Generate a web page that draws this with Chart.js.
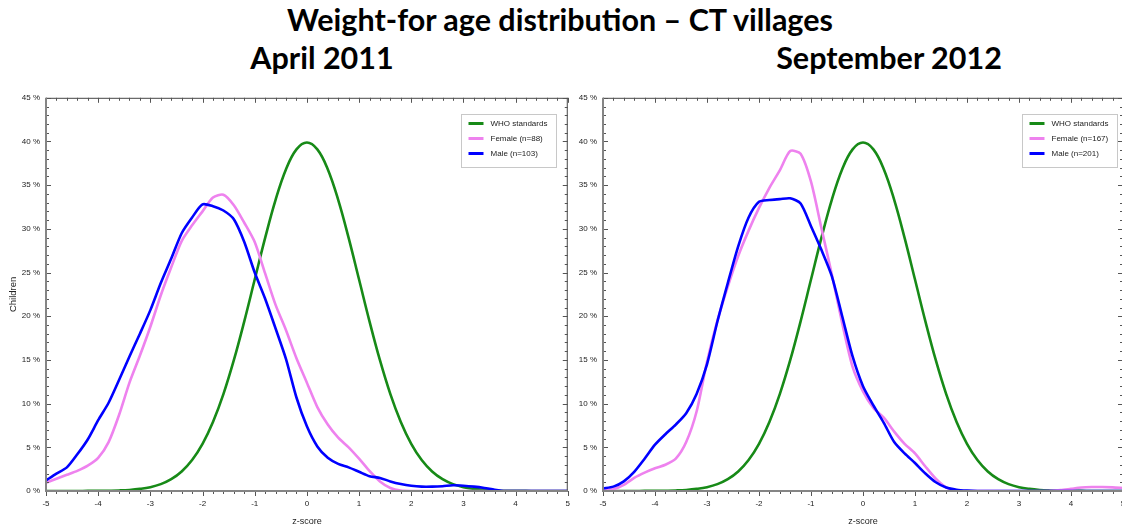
<!DOCTYPE html>
<html>
<head>
<meta charset="utf-8">
<script src="https://cdn.jsdelivr.net/npm/chart.js@4.4.0/dist/chart.umd.min.js"></script>
<style>
  body { margin: 0; width: 1122px; height: 531px; overflow: hidden; background: #fff; position: relative; }
  .title { position: absolute; font-family: Lato, "Open Sans", sans-serif; font-weight: bold; font-size: 30.5px; line-height: 30.5px; color: #000; white-space: nowrap; transform: translateX(-50%); }
  .panel { position: absolute; top: 87px; }
  canvas { display: block; }
</style>
</head>
<body>
<div class="title" style="left:560px; top:4px">Weight-for age distribution – CT villages</div>
<div class="title" style="left:322px; top:42px">April 2011</div>
<div class="title" style="left:889px; top:42px">September 2012</div>
<div class="panel" style="left:0"><canvas id="left" width="578" height="444"></canvas></div>
<div class="panel" style="left:575px"><canvas id="right" width="560" height="444"></canvas></div>
<script>
// z-score grid shared by all curves
const zScores = [-5.0,-4.8,-4.6,-4.4,-4.2,-4.0,-3.8,-3.6,-3.4,-3.2,-3.0,-2.8,-2.6,-2.4,-2.2,-2.0,-1.8,-1.6,-1.4,-1.2,-1.0,-0.8,-0.6,-0.4,-0.2,
  0.0,0.2,0.4,0.6,0.8,1.0,1.2,1.4,1.6,1.8,2.0,2.2,2.4,2.6,2.8,3.0,3.2,3.4,3.6,3.8,4.0,4.2,4.4,4.6,4.8,5.0];

// % of children at each z-score
const whoStandard = [0,0,0,0,0.01,0.01,0.03,0.06,0.12,0.24,0.44,0.79,1.36,2.24,3.55,5.4,7.9,11.09,14.97,19.42,24.2,28.97,33.32,36.83,39.1,
  39.89,39.1,36.83,33.32,28.97,24.2,19.42,14.97,11.09,7.9,5.4,3.55,2.24,1.36,0.79,0.44,0.24,0.12,0.06,0.03,0.01,0.01,0,0,0,0];

const female2011 = [0.95,1.4,1.85,2.3,2.9,3.8,5.6,8.7,12.4,15.5,18.8,22.4,25.6,28.6,30.4,32.0,33.6,33.9,32.7,30.7,28.5,24.9,21.3,18.4,15.2,
  12.4,9.6,7.6,6.1,5.0,3.7,2.3,1.1,0.35,0.05,0,0,0,0,0,0,0,0,0,0,0,0,0,0,0,0];
const male2011 = [1.2,2.0,2.7,4.2,5.9,8.1,10.1,12.7,15.4,18.0,20.7,23.8,26.6,29.5,31.3,32.8,32.6,32.1,31.1,28.5,25.0,22.0,18.6,15.1,10.7,
  7.4,5.1,3.8,3.1,2.7,2.2,1.7,1.5,1.1,0.8,0.6,0.5,0.5,0.55,0.65,0.6,0.5,0.35,0.15,0,0,0,0,0,0,0];

const female2012 = [0.1,0.2,0.7,1.5,2.1,2.6,3.0,3.7,5.6,9.1,14.8,19.5,23.4,26.9,29.8,32.4,34.7,36.7,38.9,38.6,35.4,30.1,24.8,19.2,14.2,
  11.4,9.5,8.4,6.8,5.4,4.3,2.8,1.4,0.4,0.05,0,0,0,0,0,0,0,0,0.02,0.1,0.25,0.4,0.45,0.45,0.42,0.35];
const male2012 = [0.3,0.5,1.1,2.2,3.7,5.3,6.5,7.6,8.9,11.1,14.5,19.4,23.8,28.0,31.3,33.1,33.3,33.4,33.5,32.9,30.3,27.6,24.6,20.0,15.4,
  12.0,9.8,7.8,5.6,4.3,3.2,2.0,1.0,0.4,0.15,0.05,0,0,0,0,0,0,0,0,0,0,0,0,0,0,0];

const xTickLabels = ['-5','-4','-3','-2','-1','0','1','2','3','4','5'];

const GREEN = '#178a17';
const PINK = '#ee82ee';
const BLUE = '#0000ff';
const FONT = '"Liberation Sans", Arial, sans-serif';

const points = vals => zScores.map((z, i) => ({ x: z, y: vals[i] }));

// box around the plot, minor/major ticks on every side, and the legend
const framePlugin = {
  id: 'frame',
  afterDraw(chart, args, opts) {
    const { ctx, chartArea: a, scales: { x, y } } = chart;
    ctx.save();

    // top and right edges
    ctx.strokeStyle = '#444';
    ctx.lineWidth = 1;
    ctx.beginPath();
    ctx.moveTo(a.left, a.top + 0.5); ctx.lineTo(a.right, a.top + 0.5);
    ctx.moveTo(a.right - 0.5, a.top); ctx.lineTo(a.right - 0.5, a.bottom);
    ctx.stroke();

    // x ticks every 0.2, majors every 1
    ctx.strokeStyle = '#555';
    ctx.beginPath();
    for (let i = 0; i <= 50; i++) {
      const px = Math.round(x.getPixelForValue(-5 + i * 0.2)) + 0.5;
      const len = i % 5 === 0 ? 5 : 3;
      ctx.moveTo(px, a.bottom); ctx.lineTo(px, a.bottom + len);
      ctx.moveTo(px, a.top); ctx.lineTo(px, a.top + len);
    }
    // y ticks every 1 %, majors every 5 %
    for (let i = 0; i <= 45; i++) {
      const py = Math.round(y.getPixelForValue(i)) + 0.5;
      const len = i % 5 === 0 ? 5 : 3;
      ctx.moveTo(a.left, py); ctx.lineTo(a.left + len, py);
      ctx.moveTo(a.right, py); ctx.lineTo(a.right - len, py);
    }
    ctx.stroke();

    // left and bottom axis lines
    ctx.strokeStyle = '#858585';
    ctx.lineWidth = 2;
    ctx.beginPath();
    ctx.moveTo(a.left, a.top); ctx.lineTo(a.left, a.bottom);
    ctx.lineTo(a.right, a.bottom);
    ctx.stroke();

    // legend
    const ds = opts.order.map(i => chart.data.datasets[i]);
    ctx.font = '8px ' + FONT;
    const textW = Math.max(...ds.map(d => ctx.measureText(d.label).width));
    const boxW = Math.round(30 + textW + 8);
    const boxH = 53;
    const bx = Math.round(a.right - opts.right - boxW) + 0.5;
    const by = Math.round(a.top + 16) + 0.5;
    ctx.fillStyle = '#fff';
    ctx.fillRect(bx, by, boxW, boxH);
    ctx.strokeStyle = '#c8c8c8';
    ctx.lineWidth = 1;
    ctx.strokeRect(bx, by, boxW, boxH);
    ds.forEach((d, k) => {
      const ry = by + 9 + k * 15;
      ctx.strokeStyle = d.borderColor;
      ctx.lineWidth = 3;
      ctx.beginPath();
      ctx.moveTo(bx + 7, ry); ctx.lineTo(bx + 22, ry);
      ctx.stroke();
      ctx.fillStyle = '#222';
      ctx.textBaseline = 'middle';
      ctx.fillText(d.label, bx + 29, ry);
    });
    ctx.restore();
  }
};

function makeChart(id, female, male, femaleLabel, maleLabel, opt) {
  return new Chart(document.getElementById(id), {
    type: 'line',
    plugins: [framePlugin],
    data: {
      datasets: [
        { label: 'WHO standards', data: points(whoStandard), borderColor: GREEN, tension: 0.4, order: 2 },
        { label: femaleLabel, data: points(female), borderColor: PINK, tension: 0.25, order: 1 },
        { label: maleLabel, data: points(male), borderColor: BLUE, tension: 0.25, order: 0 }
      ]
    },
    options: {
      responsive: false,
      animation: false,
      elements: { point: { radius: 0 }, line: { borderWidth: 2.6, fill: false } },
      layout: { padding: { top: 4, right: opt.rightPad, left: 0, bottom: 0 } },
      plugins: {
        legend: { display: false },
        tooltip: { enabled: false },
        frame: { order: [0, 1, 2], right: opt.legendRight }
      },
      scales: {
        x: {
          type: 'linear', min: -5, max: 5,
          grid: { display: false, drawTicks: false },
          border: { display: false },
          ticks: {
            stepSize: 1, padding: 8, autoSkip: false, maxRotation: 0,
            color: '#222', font: { size: 8, family: FONT },
            callback: (v, i) => xTickLabels[i]
          },
          title: { display: true, text: 'z-score', color: '#222', font: { size: 9, family: FONT }, padding: { top: 6 } },
          afterFit(s) { s.height = 40; }
        },
        y: {
          min: 0, max: 45,
          grid: { display: false, drawTicks: false },
          border: { display: false },
          ticks: {
            stepSize: 5, padding: 6,
            color: '#222', font: { size: 8, family: FONT },
            callback: v => v + ' %'
          },
          title: { display: opt.yTitle, text: 'Children', color: '#222', font: { size: 9.5, family: FONT }, padding: { top: 8, bottom: 0 } },
          afterFit(s) { s.width = opt.yWidth; }
        }
      }
    }
  });
}

makeChart('left', female2011, male2011, 'Female (n=88)', 'Male (n=103)',
  { yWidth: 46, rightPad: 5, yTitle: true, legendRight: 12 });
makeChart('right', female2012, male2012, 'Female (n=167)', 'Male (n=201)',
  { yWidth: 28, rightPad: 12, yTitle: false, legendRight: 6 });
</script>
</body>
</html>
